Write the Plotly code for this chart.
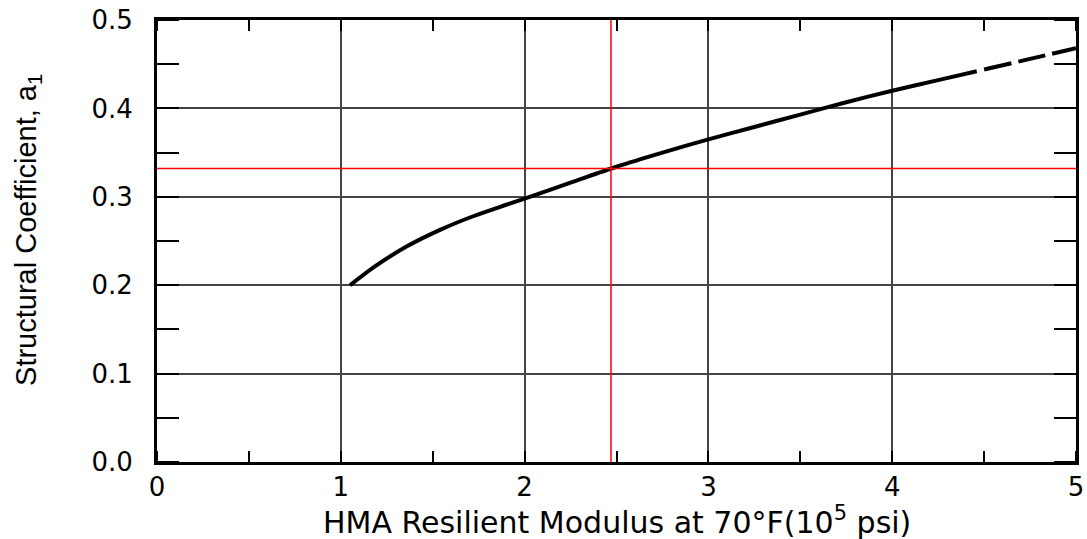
import plotly.graph_objects as go

# Curve (modulus in 10^5 psi, structural coefficient a1)
solid_x = [1.05, 1.18, 1.36, 1.54, 1.72, 1.90, 2.00, 2.25, 2.50, 2.75, 3.00, 3.25, 3.50, 3.75, 4.00, 4.25, 4.46]
solid_y = [0.200, 0.2205, 0.244, 0.2626, 0.278, 0.291, 0.298, 0.316, 0.334, 0.350, 0.365, 0.379, 0.393, 0.407, 0.420, 0.432, 0.442]
dash_x = [4.50, 4.75, 5.00]
dash_y = [0.444, 0.456, 0.468]

# Red reference lines
red_x = 2.47
red_y = 0.332

x_ticks = [0, 1, 2, 3, 4, 5]
y_ticks = [0.0, 0.1, 0.2, 0.3, 0.4, 0.5]
x_range = [0, 5]
y_range = [0, 0.5]

x_title = "HMA Resilient Modulus at 70°F(10<sup>5</sup> psi)"
y_title = "Structural Coefficient, a<sub>1</sub>"

tick_font = dict(family="DejaVu Sans", size=26, color="black")

fig = go.Figure()

fig.add_trace(go.Scatter(x=solid_x, y=solid_y, mode="lines",
                         line=dict(color="black", width=4, shape="spline", smoothing=0.8),
                         showlegend=False, hoverinfo="skip"))
fig.add_trace(go.Scatter(x=dash_x, y=dash_y, mode="lines",
                         line=dict(color="black", width=4, dash="28px,7px", shape="spline"),
                         showlegend=False, hoverinfo="skip"))

fig.add_vline(x=red_x, line=dict(color="red", width=1.5))
fig.add_hline(y=red_y, line=dict(color="red", width=1.5))

fig.add_annotation(text=x_title, xref="paper", yref="paper", x=0.5, y=0,
                   xanchor="center", yanchor="middle", yshift=-58, showarrow=False,
                   font=dict(family="DejaVu Sans", size=30, color="black"))
fig.add_annotation(text=y_title, xref="paper", yref="paper", x=0, y=0.525,
                   xanchor="center", yanchor="middle", xshift=-129, textangle=-90,
                   showarrow=False,
                   font=dict(family="Liberation Sans", size=29, color="black"))

fig.update_layout(
    width=1087, height=539,
    margin=dict(l=157, r=11, t=20, b=77),
    paper_bgcolor="white", plot_bgcolor="white",
    showlegend=False,
    xaxis=dict(
        range=x_range, tickvals=x_ticks, ticktext=[str(v) for v in x_ticks],
        showgrid=True, gridcolor="#444", gridwidth=2,
        showline=True, linecolor="black", linewidth=3, mirror="ticks",
        ticks="", tickfont=tick_font, ticklabelstandoff=0,
        zeroline=False, automargin=False,
        minor=dict(dtick=0.5, ticks="inside", ticklen=11, tickwidth=1.5,
                   tickcolor="black", showgrid=False),
    ),
    yaxis=dict(
        range=y_range, tickvals=y_ticks, ticktext=[f"{v:.1f}" for v in y_ticks],
        showgrid=True, gridcolor="#444", gridwidth=2,
        showline=True, linecolor="black", linewidth=3, mirror="ticks",
        ticks="", tickfont=tick_font, ticklabelstandoff=16,
        zeroline=False, automargin=False,
        minor=dict(dtick=0.05, ticks="inside", ticklen=22, tickwidth=1.5,
                   tickcolor="black", showgrid=False),
    ),
)

fig.write_html("out.html", config={"displayModeBar": False},
               post_script="document.body.style.margin='0';")
